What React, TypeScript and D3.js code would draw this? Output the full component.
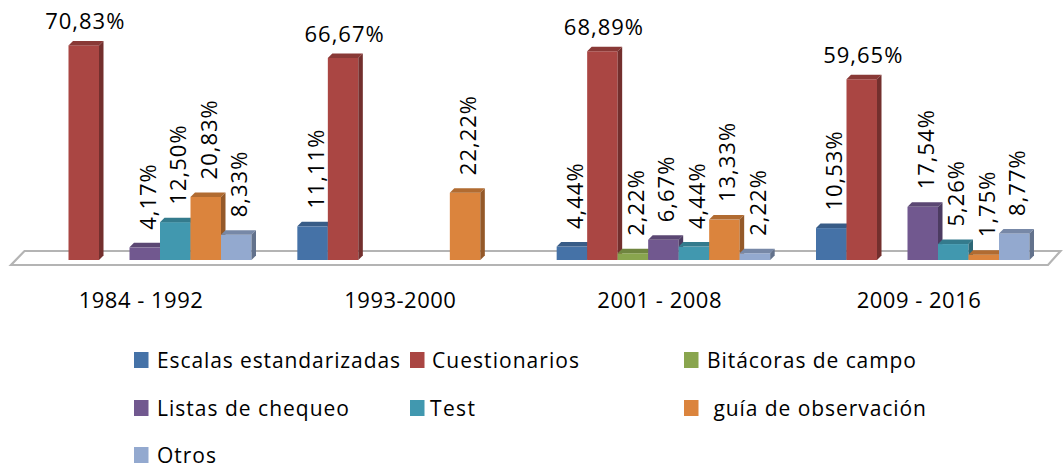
import React from "react";
import * as d3 from "d3";

const periods = ["1984 - 1992", "1993-2000", "2001 - 2008", "2009 - 2016"];
const seriesNames = ["Escalas estandarizadas", "Cuestionarios", "Bitácoras de campo", "Listas de chequeo", "Test", " guía de observación", "Otros"];
const escalas = [null, 11.11, 4.44, 10.53];
const cuestionarios = [70.83, 66.67, 68.89, 59.65];
const bitacoras = [null, null, 2.22, null];
const listas = [4.17, null, 6.67, 17.54];
const test = [12.5, null, 4.44, 5.26];
const guia = [20.83, 22.22, 13.33, 1.75];
const otros = [8.33, null, 2.22, 8.77];
const allSeries = [escalas, cuestionarios, bitacoras, listas, test, guia, otros];
const colors = ["#4572A7", "#AA4643", "#89A54E", "#71588F", "#4198AF", "#DB843D", "#93A9CF"];
const legendX = [134, 410, 684, 134, 410, 684, 134];
const legendY = [368, 368, 368, 416, 416, 416, 463];
const legendTextX = [157, 432, 707, 157, 430, 707, 157];
const legendTextLen = [243, 147, 209, 192, 45, 219, 59];
const horizontalThreshold = 50;

const FONT = "'Open Sans', 'Noto Sans', sans-serif";
const y = d3.scaleLinear().domain([0, 100]).range([260, -43]);
const group = d3.scalePoint<number>().domain([0, 1, 2, 3]).range([38, 816]);
const slot = d3.scaleBand<number>().domain(d3.range(7)).range([0, 213.5]);
const dx = 4.5, dy = 4.5;

function Bar({ x, w, top, color }: { x: number; w: number; top: number; color: string }) {
  const base = y(0);
  const c = d3.color(color)!;
  return (
    <g>
      <rect x={x} y={top} width={w} height={base - top} fill={color} />
      <path d={`M${x},${top}l${dx},${-dy}h${w}l${-dx},${dy}z`} fill={c.darker(0.6).toString()} />
      <path d={`M${x + w},${top}l${dx},${-dy}V${base - dy}l${-dx},${dy}z`} fill={c.darker(1.1).toString()} />
    </g>
  );
}

export default function App() {
  const w = slot.bandwidth();
  const marks = periods.flatMap((_, g) =>
    allSeries.flatMap((s, i) => {
      const v = s[g];
      return v == null ? [] : [{ g, i, v, x: group(g)! + slot(i)! }];
    })
  );
  return (
    <svg width={1063} height={465} style={{ position: "absolute", left: 0, top: 0, background: "#fff" }}>
      <path d="M24.5,251H1060.5L1048,265H11Z" fill="#fff" stroke="#b4b4b4" strokeWidth={2.2} />
      {marks.map((m) => (
        <Bar key={`${m.g}-${m.i}`} x={m.x} w={w} top={y(m.v)} color={colors[m.i]} />
      ))}
      {marks.map((m) => {
        const label = m.v.toFixed(2).replace(".", ",") + "%";
        const cx = m.x + w / 2;
        return m.v > horizontalThreshold ? (
          <text key={`l${m.g}-${m.i}`} x={cx + 1.5} y={y(m.v) - 16} textAnchor="middle" fontFamily={FONT} fontSize={22} letterSpacing={1} fill="#000">{label}</text>
        ) : (
          <text key={`l${m.g}-${m.i}`} transform={`translate(${cx + 11},${y(m.v) - 17.5}) rotate(-90)`} fontFamily={FONT} fontSize={22} letterSpacing={1} fill="#000">{label}</text>
        );
      })}
      {periods.map((p, g) => (
        <text key={p} x={group(g)! + 103} y={308} textAnchor="middle" fontFamily={FONT} fontSize={22} letterSpacing={0.5} fill="#000">{p}</text>
      ))}
      {seriesNames.map((n, i) => (
        <g key={n}>
          <rect x={legendX[i]} y={legendY[i] - 16} width={14.5} height={16} fill={colors[i]} />
          <text x={legendTextX[i]} y={legendY[i]} xmlSpace="preserve" fontFamily={FONT} fontSize={21} textLength={legendTextLen[i]} lengthAdjust="spacing" fill="#000">{n}</text>
        </g>
      ))}
    </svg>
  );
}
